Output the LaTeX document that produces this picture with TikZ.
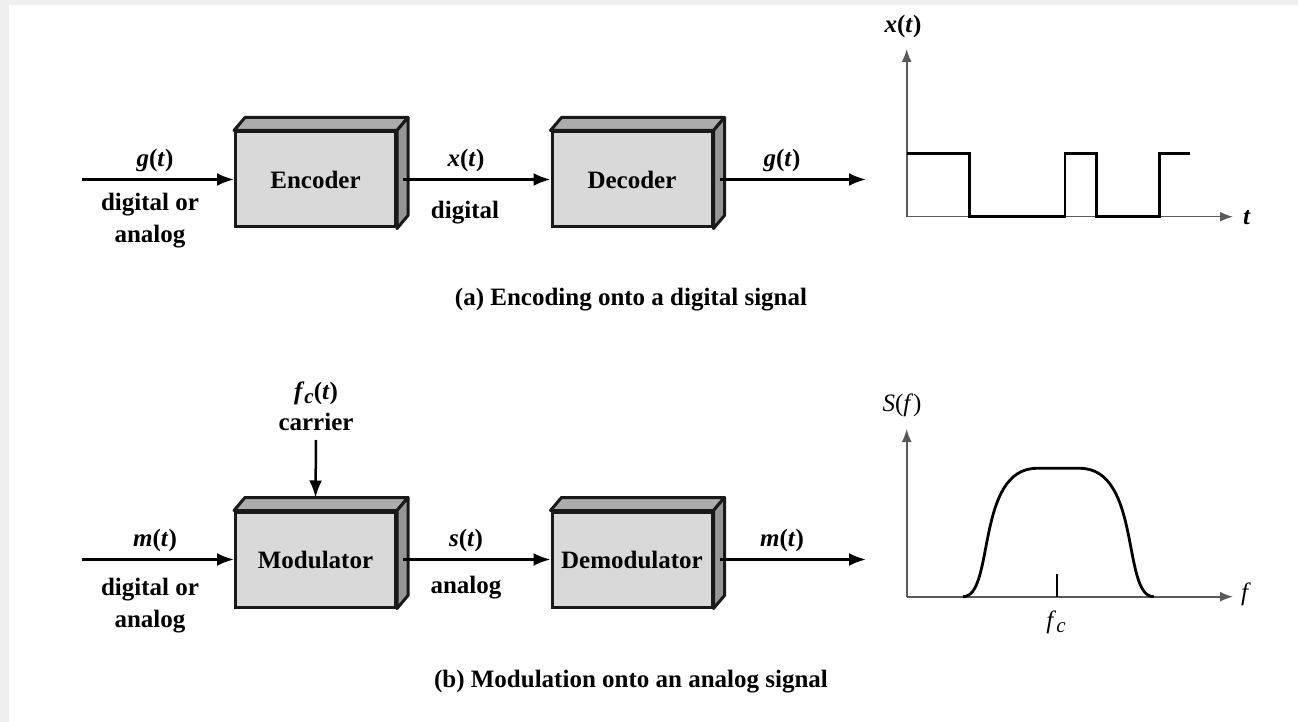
\documentclass[tikz,border=0pt]{standalone}
\usepackage{fontspec}
\setmainfont{Liberation Serif}
\usetikzlibrary{arrows.meta}
\definecolor{frame}{RGB}{240,240,240}
\definecolor{boxfront}{RGB}{217,217,217}
\definecolor{boxtop}{RGB}{172,172,172}
\definecolor{boxside}{RGB}{150,150,150}
\definecolor{axisgray}{RGB}{90,90,90}
\newcommand\subc{\raisebox{-0.35ex}{\fontsize{10.5}{12}\selectfont\textit{c}}}

\tikzset{
    blk/.style={draw=black!90, line width=1.5pt, fill=boxfront, minimum width=80pt,
        minimum height=47.5pt, inner sep=0pt, font=\bfseries},
    sig/.style={line width=1.25pt, -{Latex[length=8.5pt,width=6.5pt]}},
    lbl/.style={font=\bfseries, inner sep=1pt},
    axis/.style={line width=0.8pt, draw=axisgray, -{Latex[length=6.5pt,width=5pt]}},
    trace/.style={line width=1.4pt, line join=miter},
}
\newcommand\boxdepth[1]{%
    \draw[line width=1.5pt, draw=black!90, fill=boxtop, line join=round]
        (#1.north west) -- ++(1.1,-1.3) -- ([shift={(1.1,-1.3)}]#1.north east)
        -- (#1.north east) -- cycle;
    \draw[line width=1.5pt, draw=black!90, fill=boxside, line join=round]
        (#1.north east) -- ++(1.1,-1.3) -- ([shift={(1.1,-1.3)}]#1.south east)
        -- (#1.south east) -- cycle;}

\begin{document}
\fontsize{12.5}{16}\selectfont
\begin{tikzpicture}[x=5pt, y=-5pt]
    \useasboundingbox (0, 0) rectangle (129.8, 72.2);
    \fill[frame] (0, 0) rectangle (129.8, 72.2);
    \fill[white] (0.9, 0.5) rectangle (129.8, 72.2);
    \begin{scope}
        \node[blk] (enc) at (31.55, 17.95) {Encoder};
        \node[blk] (dec) at (63.2, 17.95) {Decoder};
        \boxdepth{enc}
        \boxdepth{dec}
        \coordinate (ina) at (8.2, 17.95);
        \coordinate (outa) at (86.6, 17.95);
        \draw[sig] (ina) -- (enc.west);
        \draw[sig] ([xshift=3pt]enc.east) -- (dec.west);
        \draw[sig] ([xshift=3pt]dec.east) -- (outa);
        \node[lbl] (ga) at (15.5, 16.0) {\textit{g}(\textit{t})};
        \node[lbl, align=center] (dga) at (15.0, 22.1) {digital or\\analog};
        \node[lbl] (xa) at (46.6, 16.0) {\textit{x}(\textit{t})};
        \node[lbl] (dxa) at (46.5, 21.3) {digital};
        \node[lbl] (go) at (78.2, 16.0) {\textit{g}(\textit{t})};
        \coordinate (oa) at (90.67, 21.67);
        \coordinate (ya) at (90.67, 4.9);
        \coordinate (ta) at (123.3, 21.67);
        \draw[axis] (oa) -- (ya);
        \draw[axis] (oa) -- (ta);
        \node[lbl] (xlab) at (90.3, 2.6) {\textit{x}(\textit{t})};
        \node[lbl] (tlab) at (124.7, 21.8) {\textit{t}};
        \draw[trace] (90.67, 15.33) -- (96.93, 15.33) -- (96.93, 21.67)
            -- (106.5, 21.67) -- (106.5, 15.33) -- (109.67, 15.33)
            -- (109.67, 21.67) -- (115.93, 21.67) -- (115.93, 15.33)
            -- (119.0, 15.33);
        \node[lbl] (capa) at (63.1, 30.0) {(a) Encoding onto a digital signal};
    \end{scope}
    \begin{scope}[yshift=-190pt]
        \node[blk] (mod) at (31.55, 17.95) {Modulator};
        \node[blk] (demod) at (63.2, 17.95) {Demodulator};
        \boxdepth{mod}
        \boxdepth{demod}
        \coordinate (inb) at (8.2, 17.95);
        \coordinate (outb) at (86.6, 17.95);
        \coordinate (carr) at (31.6, 6.0);
        \draw[sig] (inb) -- (mod.west);
        \draw[sig] ([xshift=3pt]mod.east) -- (demod.west);
        \draw[sig] ([xshift=3pt]demod.east) -- (outb);
        \draw[sig] (carr) -- ([yshift=6.5pt]mod.north);
        \node[lbl] (fct) at (31.6, 1.3) {\textit{f}\subc(\textit{t})};
        \node[lbl] (cw) at (31.6, 4.2) {carrier};
        \node[lbl] (mb) at (15.5, 16.0) {\textit{m}(\textit{t})};
        \node[lbl, align=center] (dgb) at (15.0, 22.6) {digital or\\analog};
        \node[lbl] (sb) at (46.6, 16.0) {\textit{s}(\textit{t})};
        \node[lbl] (asb) at (46.6, 20.8) {analog};
        \node[lbl] (mo) at (78.2, 16.0) {\textit{m}(\textit{t})};
        \coordinate (ob) at (90.67, 21.67);
        \coordinate (yb) at (90.67, 4.9);
        \coordinate (fb) at (123.3, 21.67);
        \draw[axis] (ob) -- (yb);
        \draw[axis] (ob) -- (fb);
        \node (slab) at (90.2, 2.5) {\textit{S}(\textit{f})};
        \node (flab) at (124.6, 21.4) {\textit{f}};
        \draw[trace, line join=round] (96.3, 21.67)
            .. controls (99.5, 21.67) and (97.5, 8.83) .. (103.7, 8.83)
            -- (107.97, 8.83)
            .. controls (114.17, 8.83) and (112.17, 21.67) .. (115.37, 21.67);
        \draw[line width=0.8pt] (105.67, 21.67) -- (105.67, 19.4);
        \node (fclab) at (105.6, 24.2) {\textit{f}\subc};
        \node[lbl] (capb) at (63.1, 30.2) {(b) Modulation onto an analog signal};
    \end{scope}
\end{tikzpicture}
\end{document}
